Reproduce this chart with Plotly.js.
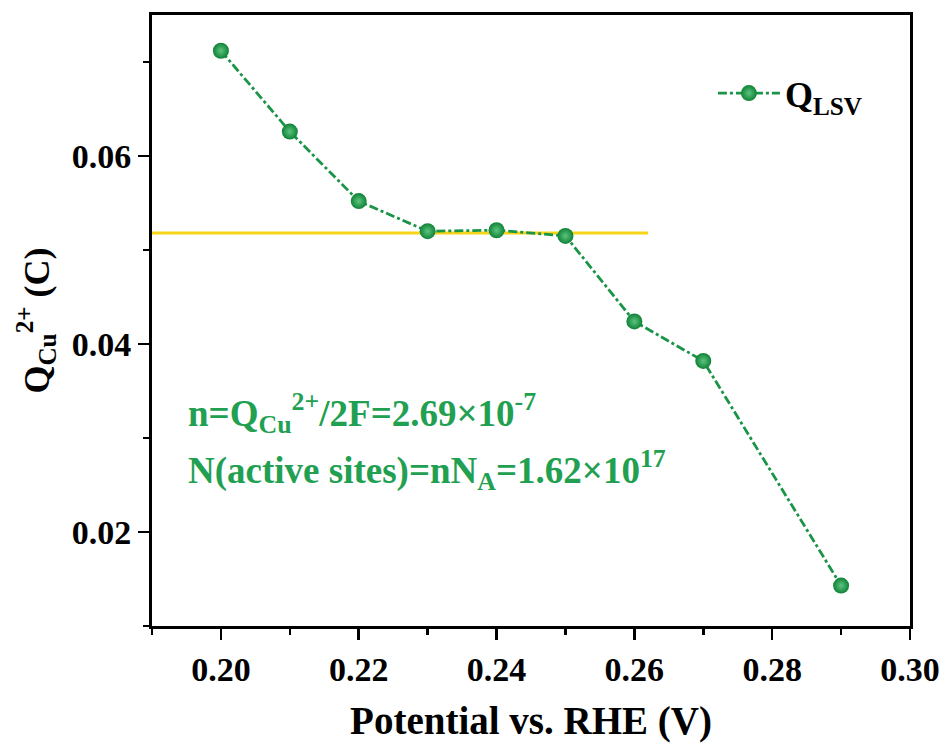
<!DOCTYPE html>
<html>
<head>
<meta charset="utf-8">
<script src="https://cdn.plot.ly/plotly-3.0.1.min.js"></script>
<style>html,body{margin:0;padding:0;background:#fff;}#chart{width:948px;height:749px;}</style>
</head>
<body>
<div id="chart"></div>
<script>
// Data
const potential = [0.20, 0.21, 0.22, 0.23, 0.24, 0.25, 0.26, 0.27, 0.29];
const qLSV = [0.0712, 0.0626, 0.0552, 0.0520, 0.0521, 0.0515, 0.0424, 0.0382, 0.0143];
const refLineX = [0.19, 0.262];
const refLineY = [0.0518, 0.0518];
const xTicks = [0.20, 0.22, 0.24, 0.26, 0.28, 0.30];
const xTickLabels = ['0.20', '0.22', '0.24', '0.26', '0.28', '0.30'];
const yTicks = [0.02, 0.04, 0.06];
const yTickLabels = ['0.02', '0.04', '0.06'];

const FONT = 'Times New Roman, Liberation Serif, serif';
const GREEN = '#1a9447';
const TEXTGREEN = '#22a052';

const traces = [
  {
    x: refLineX, y: refLineY, mode: 'lines', showlegend: false,
    line: {color: '#f7d417', width: 3}, hoverinfo: 'skip'
  },
  {
    x: potential, y: qLSV, mode: 'lines+markers', name: 'Q<sub>LSV</sub>',
    line: {color: GREEN, width: 2.8, dash: 'dashdot'},
    marker: {size: 16, color: '#0f8236', gradient: {type: 'radial', color: '#5cc47f'},
             line: {width: 0}}
  }
];

const layout = {
  width: 948, height: 749,
  margin: {l: 152, r: 38, t: 15, b: 123},
  paper_bgcolor: '#fff', plot_bgcolor: '#fff',
  font: {family: FONT, color: '#000', weight: 'bold'},
  showlegend: true,
  legend: {
    x: 0.74, y: 0.872, xanchor: 'left', yanchor: 'middle',
    bgcolor: 'rgba(0,0,0,0)', itemwidth: 62,
    font: {family: FONT, size: 36, color: '#000', weight: 'bold'}
  },
  xaxis: {
    range: [0.19, 0.30], showgrid: false, zeroline: false,
    showline: true, linewidth: 3, linecolor: '#000', mirror: true,
    ticks: 'outside', ticklen: 11, tickwidth: 2.5, tickcolor: '#000',
    tickmode: 'array', tickvals: xTicks, ticktext: xTickLabels,
    tickfont: {family: FONT, size: 34, weight: 'bold'},
    minor: {dtick: 0.01, tick0: 0.19, ticks: 'outside', ticklen: 6, tickwidth: 2.5, tickcolor: '#000', showgrid: false},
    title: {text: 'Potential vs. RHE (V)', font: {family: FONT, size: 39, weight: 'bold'}, standoff: 20}
  },
  yaxis: {
    range: [0.01, 0.075], showgrid: false, zeroline: false,
    showline: true, linewidth: 3, linecolor: '#000', mirror: true,
    ticks: 'outside', ticklen: 11, tickwidth: 2.5, tickcolor: '#000',
    tickmode: 'array', tickvals: yTicks, ticktext: yTickLabels,
    tickfont: {family: FONT, size: 34, weight: 'bold'},
    minor: {dtick: 0.01, tick0: 0.01, ticks: 'outside', ticklen: 6, tickwidth: 2.5, tickcolor: '#000', showgrid: false},
    title: {text: 'Q<sub>Cu</sub><sup>2+</sup> (C)', font: {family: FONT, size: 36, weight: 'bold'}, standoff: 12}
  },
  annotations: [
    {
      xref: 'paper', yref: 'paper', x: 0.045, y: 0.348, xanchor: 'left', yanchor: 'middle',
      text: 'n=Q<sub>Cu</sub><sup>2+</sup>/2F=2.69×10<sup>-7</sup>', showarrow: false,
      font: {family: FONT, size: 37, color: TEXTGREEN, weight: 'bold'}
    },
    {
      xref: 'paper', yref: 'paper', x: 0.045, y: 0.255, xanchor: 'left', yanchor: 'middle',
      text: 'N(active sites)=nN<sub>A</sub>=1.62×10<sup>17</sup>', showarrow: false,
      font: {family: FONT, size: 37, color: TEXTGREEN, weight: 'bold'}
    }
  ]
};

Plotly.newPlot('chart', traces, layout, {displayModeBar: false, staticPlot: true});
</script>
</body>
</html>
